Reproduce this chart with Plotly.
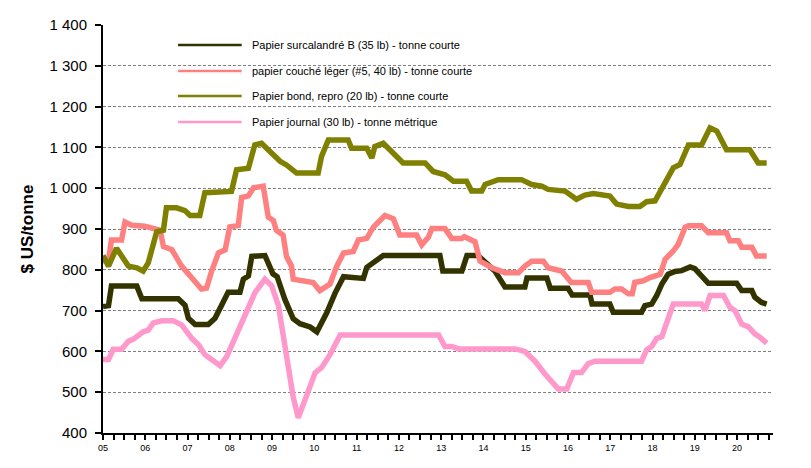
import plotly.graph_objects as go

# (année, $ US/tonne)
surcalandre = [
    (2005.0, 710), (2005.13, 712), (2005.2, 760), (2005.8, 760), (2005.92, 729),
    (2006.78, 729), (2006.94, 713), (2007.02, 681), (2007.18, 666), (2007.49, 666),
    (2007.65, 681), (2007.81, 713), (2007.96, 745), (2008.24, 745), (2008.32, 777),
    (2008.44, 785), (2008.52, 833), (2008.83, 835), (2009.02, 790), (2009.12, 783),
    (2009.3, 728), (2009.5, 680), (2009.66, 668), (2009.9, 660), (2010.06, 648),
    (2010.29, 694), (2010.49, 743), (2010.69, 783), (2011.16, 779), (2011.24, 806),
    (2011.63, 835), (2012.97, 835), (2013.04, 797), (2013.49, 797), (2013.61, 835),
    (2013.87, 835), (2014.04, 820), (2014.27, 797), (2014.51, 758), (2014.98, 758),
    (2015.03, 780), (2015.5, 780), (2015.58, 755), (2016.0, 755), (2016.1, 738),
    (2016.52, 738), (2016.57, 716), (2016.99, 716), (2017.07, 696), (2017.74, 696),
    (2017.82, 712), (2017.98, 716), (2018.1, 737), (2018.22, 765), (2018.37, 789),
    (2018.53, 796), (2018.69, 798), (2018.89, 807), (2019.0, 803), (2019.16, 784),
    (2019.32, 767), (2019.99, 767), (2020.11, 749), (2020.35, 749), (2020.42, 733),
    (2020.58, 720), (2020.7, 716),
]

couche_leger = [
    (2005.0, 822), (2005.13, 822), (2005.2, 873), (2005.44, 873), (2005.52, 917),
    (2005.68, 909), (2005.99, 907), (2006.19, 901), (2006.35, 897), (2006.43, 857),
    (2006.63, 849), (2006.86, 809), (2007.1, 781), (2007.33, 753), (2007.45, 755),
    (2007.57, 797), (2007.73, 841), (2007.89, 849), (2008.0, 905), (2008.2, 909),
    (2008.28, 977), (2008.44, 981), (2008.56, 1001), (2008.79, 1005), (2008.91, 929),
    (2009.03, 921), (2009.1, 897), (2009.26, 885), (2009.34, 833), (2009.46, 809),
    (2009.5, 777), (2009.97, 769), (2010.13, 749), (2010.37, 765), (2010.53, 809),
    (2010.69, 841), (2010.92, 845), (2011.04, 873), (2011.24, 877), (2011.4, 905),
    (2011.67, 933), (2011.87, 925), (2012.02, 885), (2012.42, 885), (2012.54, 861),
    (2012.7, 880), (2012.78, 901), (2013.09, 901), (2013.25, 877), (2013.49, 877),
    (2013.55, 881), (2013.8, 869), (2013.92, 821), (2014.2, 805), (2014.51, 793),
    (2014.83, 793), (2014.98, 809), (2015.14, 821), (2015.42, 821), (2015.53, 805),
    (2015.85, 797), (2016.08, 769), (2016.48, 769), (2016.56, 745), (2016.99, 745),
    (2017.11, 753), (2017.27, 753), (2017.43, 741), (2017.52, 741), (2017.58, 769),
    (2017.78, 773), (2017.94, 781), (2018.18, 789), (2018.3, 826), (2018.49, 846),
    (2018.61, 863), (2018.77, 904), (2018.85, 908), (2019.16, 908), (2019.32, 891),
    (2019.75, 891), (2019.83, 871), (2020.03, 871), (2020.11, 855), (2020.35, 855),
    (2020.46, 834), (2020.7, 834),
]

bond_repro = [
    (2005.0, 835), (2005.13, 809), (2005.32, 853), (2005.6, 809), (2005.8, 805),
    (2005.95, 797), (2006.07, 817), (2006.27, 893), (2006.43, 897), (2006.5, 952),
    (2006.74, 952), (2006.94, 945), (2007.06, 933), (2007.29, 933), (2007.41, 989),
    (2008.04, 992), (2008.16, 1045), (2008.44, 1049), (2008.59, 1106), (2008.75, 1110),
    (2008.95, 1090), (2009.19, 1066), (2009.34, 1057), (2009.58, 1037), (2010.09, 1037),
    (2010.17, 1078), (2010.33, 1118), (2010.8, 1118), (2010.88, 1098), (2011.24, 1098),
    (2011.36, 1074), (2011.43, 1102), (2011.63, 1110), (2011.83, 1090), (2012.1, 1062),
    (2012.62, 1062), (2012.81, 1041), (2013.09, 1033), (2013.29, 1017), (2013.6, 1017),
    (2013.72, 993), (2013.96, 993), (2014.04, 1009), (2014.35, 1021), (2014.9, 1021),
    (2015.14, 1009), (2015.38, 1005), (2015.53, 997), (2015.93, 993), (2016.2, 973),
    (2016.4, 983), (2016.6, 987), (2016.99, 981), (2017.15, 961), (2017.43, 955),
    (2017.7, 955), (2017.86, 967), (2018.06, 969), (2018.26, 1010), (2018.49, 1050),
    (2018.65, 1058), (2018.85, 1106), (2019.16, 1106), (2019.36, 1148), (2019.52, 1140),
    (2019.75, 1094), (2020.3, 1094), (2020.5, 1062), (2020.7, 1062),
]

journal = [
    (2005.0, 580), (2005.13, 580), (2005.24, 605), (2005.44, 605), (2005.6, 625),
    (2005.72, 630), (2005.95, 648), (2006.07, 652), (2006.19, 670), (2006.39, 675),
    (2006.66, 675), (2006.86, 665), (2007.1, 632), (2007.26, 616), (2007.41, 592),
    (2007.57, 580), (2007.77, 565), (2007.93, 588), (2008.12, 632), (2008.36, 688),
    (2008.6, 745), (2008.83, 777), (2008.99, 761), (2009.15, 712), (2009.26, 640),
    (2009.38, 560), (2009.5, 488), (2009.62, 437), (2009.74, 472), (2009.9, 520),
    (2010.02, 548), (2010.17, 560), (2010.37, 592), (2010.61, 640), (2012.94, 640),
    (2013.09, 612), (2013.25, 612), (2013.41, 606), (2014.75, 606), (2014.98, 600),
    (2015.22, 576), (2015.46, 544), (2015.61, 528), (2015.77, 508), (2015.97, 508),
    (2016.13, 548), (2016.32, 548), (2016.48, 570), (2016.64, 576), (2017.74, 576),
    (2017.86, 604), (2017.98, 612), (2018.1, 632), (2018.22, 636), (2018.49, 716),
    (2019.16, 716), (2019.24, 700), (2019.36, 737), (2019.68, 737), (2019.83, 708),
    (2019.95, 700), (2020.11, 667), (2020.27, 660), (2020.42, 643), (2020.54, 635),
    (2020.7, 620),
]

series_names = [
    "Papier surcalandré B (35 lb) - tonne courte",
    "papier couché léger (#5, 40 lb) - tonne courte",
    "Papier bond, repro (20 lb) - tonne courte",
    "Papier journal (30 lb) - tonne métrique",
]
series_colors = ["#333300", "#FF8080", "#808000", "#FF99CC"]

years = list(range(2005, 2021))
year_labels = ["%02d" % (y % 100) for y in years]
y_ticks = [400, 500, 600, 700, 800, 900, 1000, 1100, 1200, 1300, 1400]

FONT = "Arial, Liberation Sans, sans-serif"

fig = go.Figure()
for pts, name, color in zip([surcalandre, couche_leger, bond_repro, journal],
                            series_names, series_colors):
    fig.add_trace(go.Scatter(
        x=[p[0] for p in pts],
        y=[p[1] for p in pts],
        mode="lines",
        name=name,
        line=dict(color=color, width=5.5),
        showlegend=False,
    ))

# legend drawn by hand (thin line + text), inside the plot area
legend_y = [0.951, 0.887, 0.826, 0.762]
for name, color, ly in zip(series_names, series_colors, legend_y):
    fig.add_shape(type="line", xref="paper", yref="paper",
                  x0=0.112, x1=0.207, y0=ly, y1=ly,
                  line=dict(color=color, width=2.5))
    fig.add_annotation(xref="paper", yref="paper", x=0.219, y=ly,
                       text=name, showarrow=False, xanchor="left",
                       yanchor="middle", font=dict(size=11, color="black", family=FONT))

# page body has an 8px margin, so the figure is sized a bit smaller
fig.update_layout(
    width=803,
    height=460,
    paper_bgcolor="white",
    plot_bgcolor="white",
    margin=dict(l=95, r=38, t=17, b=35),
    separators=", ",
    font=dict(family=FONT, color="black"),
    xaxis=dict(
        range=[2005, 2020.85],
        automargin=False,
        tickvals=years,
        ticktext=year_labels,
        tickfont=dict(size=9),
        ticks="outside",
        ticklen=5,
        tickwidth=2,
        tickcolor="black",
        showgrid=False,
        zeroline=False,
        showline=True,
        linecolor="black",
        linewidth=2,
        minor=dict(dtick=0.25, tick0=2005, ticks="outside", ticklen=5,
                   tickwidth=2, tickcolor="black", showgrid=False),
    ),
    yaxis=dict(
        range=[400, 1400],
        automargin=False,
        tickvals=y_ticks,
        tickformat=",d",
        tickfont=dict(size=15),
        ticks="outside",
        ticklen=6,
        tickwidth=2,
        tickcolor="black",
        ticklabelstandoff=5,
        showgrid=True,
        gridcolor="#808080",
        gridwidth=1,
        griddash="3px,2px",
        zeroline=False,
        showline=True,
        linecolor="black",
        linewidth=2,
        title=dict(text="<b>$ US/tonne</b>", font=dict(size=17), standoff=12),
    ),
)

fig.write_html("out.html")
